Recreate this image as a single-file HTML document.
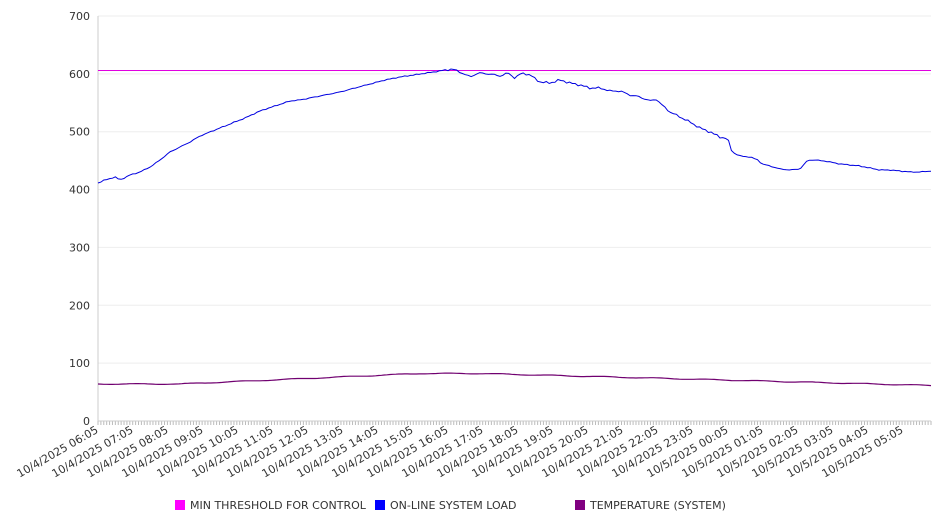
<!DOCTYPE html>
<html><head><meta charset="utf-8"><style>
html,body{margin:0;padding:0;background:#fff;width:946px;height:526px;overflow:hidden}
svg text{font-family:"DejaVu Sans","Liberation Sans",sans-serif;fill:#333}
</style></head><body>
<svg id="s" width="946" height="526" viewBox="0 0 946 526" xmlns="http://www.w3.org/2000/svg">
<g id="grid"></g>
<g id="ticks"></g>
<line x1="98" y1="16" x2="98" y2="421" stroke="#ccc"/>
<line x1="98" y1="421" x2="931" y2="421" stroke="#ccc"/>
<line x1="98" y1="70.5" x2="931" y2="70.5" stroke="#e000e0" stroke-width="1"/>
<polyline id="blue" fill="none" stroke="#0000e0" stroke-width="1"/>
<polyline id="temp" fill="none" stroke="#700070" stroke-width="1.2"/>
<g font-size="11">
<rect x="175" y="500" width="10" height="10" fill="#ff00ff"/><text x="190" y="509">MIN THRESHOLD FOR CONTROL</text>
<rect x="375" y="500" width="10" height="10" fill="#0000ff"/><text x="390" y="509">ON-LINE SYSTEM LOAD</text>
<rect x="575" y="500" width="10" height="10" fill="#800080"/><text x="590" y="509">TEMPERATURE (SYSTEM)</text>
</g>
</svg>
<script>
var NS="http://www.w3.org/2000/svg",s=document.getElementById('s');
function el(t,a,p,txt){var e=document.createElementNS(NS,t);for(var k in a)e.setAttribute(k,a[k]);if(txt)e.textContent=txt;(p||s).appendChild(e);return e;}
var g=document.getElementById('grid'),tk=document.getElementById('ticks');
for(var v=0;v<=700;v+=100){var y=421-v*0.5786;
 if(v>0)el('line',{x1:98,x2:931,y1:y,y2:y,stroke:'#eee'},g);
 el('text',{x:90,y:y+4,'text-anchor':'end','font-size':11},s,String(v));}
var step=833/288;
for(var i=0;i<=288;i++){var x=98+i*step;el('line',{x1:x,x2:x,y1:421,y2:425,stroke:'#bbb'},tk);}
var labs=["10/4/2025 06:05","10/4/2025 07:05","10/4/2025 08:05","10/4/2025 09:05","10/4/2025 10:05","10/4/2025 11:05","10/4/2025 12:05","10/4/2025 13:05","10/4/2025 14:05","10/4/2025 15:05","10/4/2025 16:05","10/4/2025 17:05","10/4/2025 18:05","10/4/2025 19:05","10/4/2025 20:05","10/4/2025 21:05","10/4/2025 22:05","10/4/2025 23:05","10/5/2025 00:05","10/5/2025 01:05","10/5/2025 02:05","10/5/2025 03:05","10/5/2025 04:05","10/5/2025 05:05"];
labs.forEach(function(l,i){var x=99+i*35,y=432;el('text',{x:x,y:y,'text-anchor':'end','font-size':11,transform:'rotate(-30 '+x+' '+y+')'},s,l);});
var P=[[98,183],[105,180],[115,177],[120,180],[130,175],[140,172],[150,167],[160,160],[170,152],[180,147],[190,142],[200,136],[215,130],[230,124],[245,118],[260,111],[275,106],[290,101],[300,100],[320,96],[340,92],[355,88],[370,84],[385,80],[400,77],[420,74],[440,71],[452,69],[460,72],[470,77],[478,73],[490,74],[500,76],[508,73],[515,78],[522,73],[530,75],[540,82],[550,83],[560,80],[570,83],[580,85],[590,88],[600,88],[610,91],[620,91],[630,95],[640,97],[650,101],[656,99],[662,105],[670,112],[680,117],[690,122],[700,128],[710,132],[720,137],[728,139],[732,152],[740,156],[750,157],[758,160],[762,164],[770,166],[780,169],[790,170],[800,169],[808,160],[815,160],[825,161],[840,164],[860,166],[875,169],[880,170],[890,170],[900,171],[910,172],[920,172],[931,171]];
function interp(x){for(var i=1;i<P.length;i++)if(x<=P[i][0]){var a=P[i-1],b=P[i],t=(x-a[0])/(b[0]-a[0]);return a[1]+t*(b[1]-a[1]);}return P[P.length-1][1];}
var pts=[],tp=[];
for(var i=0;i<=288;i++){var x=98+i*step;var n=(x>440&&x<720?1.2:0.5)*Math.sin(i*2.3)*Math.sin(i*0.9);pts.push(x.toFixed(1)+','+(interp(x)+n).toFixed(1));
 var ty;if(x<180)ty=384;else if(x<420)ty=384-(x-180)/240*10.5;else if(x<480)ty=373.5;else ty=373.5+(x-480)/451*12;
 ty+=0.4*Math.sin(i*0.35);
 tp.push(x.toFixed(1)+','+ty.toFixed(1));}
document.getElementById('blue').setAttribute('points',pts.join(' '));
document.getElementById('temp').setAttribute('points',tp.join(' '));
</script>
</body></html>
